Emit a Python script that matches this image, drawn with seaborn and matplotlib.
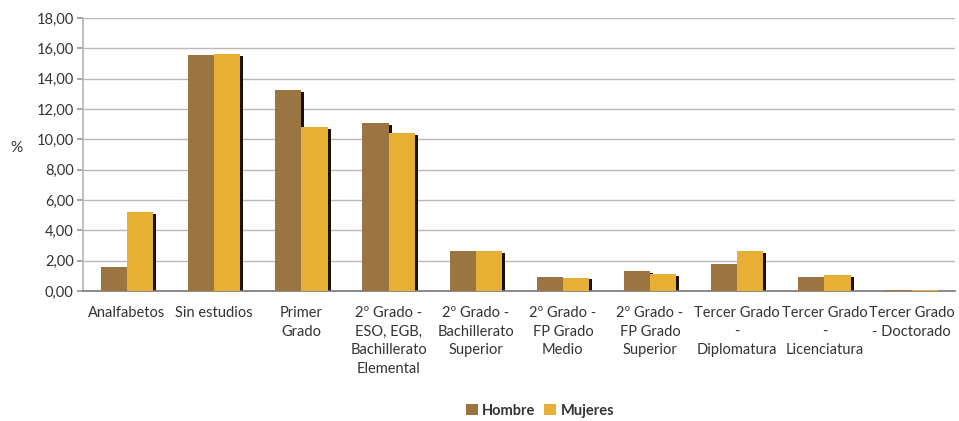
import matplotlib
matplotlib.use("Agg")
import matplotlib.pyplot as plt
import matplotlib.patches as mpatches
import seaborn as sns
import pandas as pd
import numpy as np

categories = ["Analfabetos", "Sin estudios", "Primer\nGrado",
              "2º Grado -\nESO, EGB,\nBachillerato\nElemental",
              "2º Grado -\nBachillerato\nSuperior",
              "2º Grado -\nFP Grado\nMedio",
              "2º Grado -\nFP Grado\nSuperior",
              "Tercer Grado\n-\nDiplomatura",
              "Tercer Grado\n-\nLicenciatura",
              "Tercer Grado\n- Doctorado"]
hombre = [1.58, 15.56, 13.25, 11.07, 2.64, 0.92, 1.30, 1.75, 0.92, 0.04]
mujeres = [5.20, 15.62, 10.80, 10.40, 2.64, 0.88, 1.10, 2.64, 1.05, 0.04]
series = ["Hombre", "Mujeres"]
yticks = [0, 2, 4, 6, 8, 10, 12, 14, 16, 18]

df = pd.DataFrame({
    "cat": categories * 2,
    "serie": [series[0]] * len(categories) + [series[1]] * len(categories),
    "val": hombre + mujeres,
})

sns.set_theme(style="white")
plt.rcParams['font.family'] = ['Lato', 'DejaVu Sans']

fig = plt.figure(figsize=(9.59, 4.21), dpi=100)
ax = fig.add_axes([0.087, 0.309, 0.909, 0.648])

palette = {"Hombre": "#9a7542", "Mujeres": "#e7b035"}
sns.barplot(data=df, x="cat", y="val", hue="serie", palette=palette,
            width=0.6, ax=ax, saturation=1, linewidth=0, zorder=3, legend=True)

# 3D-like dark side on each bar
for p in list(ax.patches):
    h = p.get_height()
    if h <= 0:
        continue
    d = 0.035
    r = mpatches.Rectangle((p.get_x() + p.get_width(), 0), d, max(h - 0.12, 0),
                           facecolor="#1a1208", edgecolor="none", zorder=2.5)
    ax.add_patch(r)

ax.set_ylim(0, 18)
ax.set_xlim(-0.5, len(categories) - 0.5)
ax.set_yticks(yticks)
ax.set_yticklabels([f"{v:.2f}".replace(".", ",") for v in yticks],
                   fontsize=10.5, color="#333333")
ax.yaxis.grid(True, color="#bdb6b6", linewidth=1.0, zorder=0)
ax.set_axisbelow(True)

ax.set_xticks(range(len(categories)))
ax.set_xticklabels(categories, fontsize=10.5, color="#333333", linespacing=1.42)
ax.tick_params(axis="x", which="major", length=0, pad=11)
ax.set_xticks(np.arange(-0.5, len(categories), 1.0), minor=True)
ax.tick_params(axis="x", which="minor", length=4, color="#777777", direction="out")
ax.tick_params(axis="y", length=4, color="#999999", direction="out", pad=3, left=True)

for s in ["top", "right"]:
    ax.spines[s].set_visible(False)
ax.spines["left"].set_color("#bdb6b6")
ax.spines["bottom"].set_color("#777777")
ax.spines["bottom"].set_linewidth(1.2)

ax.set_xlabel("")
ax.set_ylabel("%", rotation=0, fontsize=11, color="#333333")
ax.yaxis.set_label_coords(-0.077, 0.5)

leg = ax.legend(loc="upper center", bbox_to_anchor=(0.524, -0.365), ncol=2, frameon=False,
                fontsize=10.5, handlelength=0.8, handleheight=0.8, handletextpad=0.3,
                columnspacing=0.6)
for t in leg.get_texts():
    t.set_fontweight("bold")
    t.set_color("#333333")

fig.savefig("out.png", dpi=100, facecolor="white")
